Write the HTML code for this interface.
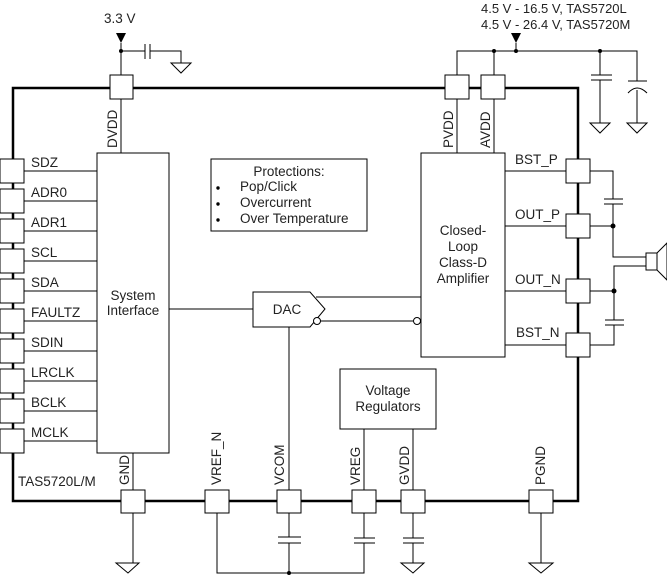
<!DOCTYPE html>
<html><head><style>
body{margin:0;background:#fff}
svg{display:block}
text{font-family:"Liberation Sans",Arial,sans-serif;font-size:13.5px;fill:#222}
</style></head><body>
<svg width="667" height="577" viewBox="0 0 667 577" xmlns="http://www.w3.org/2000/svg">
<g fill="none" stroke="#000" stroke-width="1">
<path d="M13 159 V88 H578 V501 H13 V453" stroke-width="2.5"/>
<path d="M13 170 V460" stroke-width="2.5"/>
<path d="M121 43 V75 M121 51 H145 M150 51 H181 V63 M145 44 V59 M150 44 V59 M121 99 V153"/>
<path d="M171 63 H191 L181 73 Z" fill="#fff"/>
<rect x="97" y="153" width="72" height="300" fill="#fff"/>
<path d="M24 171 H97 M24 201 H97 M24 231 H97 M24 261 H97 M24 291 H97 M24 321 H97 M24 351 H97 M24 381 H97 M24 411 H97 M24 441 H97"/>
<rect x="211" y="159" width="156" height="72"/>
<rect x="421" y="153" width="84" height="204"/>
<path d="M457 99 V153 M494 99 V153 M457 75 V51 H637 V81 M494 51 V75 M516 43 V51"/>
<path d="M600 51 V75 M591 75 H612 M591 80 H612 M600 80 V123 M637 90 V123"/>
<path d="M628 81 H647 M628 93 Q637 83 647 93"/>
<path d="M590 123 H610 L600 133 Z M627 123 H647 L637 133 Z M116 563 H139 L128 573 Z M529 563 H553 L541 573 Z M401 563 H424 L413 573 Z" fill="#fff"/>
<path d="M505 171 H566 M505 226 H566 M505 291 H566 M505 345 H566"/>
<path d="M590 171 H613 V199 M604 199 H623 M604 204 H623 M613 204 V257 H646 M590 226 H613"/>
<path d="M590 291 H614 V266 H646 M614 291 V320 M605 320 H624 M605 325 H624 M614 325 V345 H590"/>
<rect x="646" y="253" width="11" height="17"/>
<path d="M657 253 L667 243 V280 L657 270"/>
<path d="M253 292 H310 L325 309 L310 327 H253 Z"/>
<path d="M169 309 H253 M316 297 H421 M320 321 H413 M289 327 V490"/>
<circle cx="317" cy="321" r="3.5" fill="#fff"/>
<circle cx="417" cy="321" r="3.5" fill="#fff"/>
<rect x="340" y="369" width="96" height="60"/>
<path d="M364 429 V490 M413 429 V490"/>
<path d="M133 453 V490 M133 513 V563 M217 513 V573 H364 V543 M364 513 V538 M354 538 H375 M354 543 H375 M289 513 V537 M278 537 H301 M278 543 H301 M289 543 V573 M413 513 V538 M403 538 H424 M403 543 H424 M413 543 V563 M541 513 V563"/>
</g>
<g fill="#fff" stroke="#000" stroke-width="1">
<rect x="110" y="75" width="23" height="24"/><rect x="445" y="75" width="24" height="24"/><rect x="481" y="75" width="24" height="24"/>
<rect x="0" y="159" width="24" height="24"/><rect x="0" y="189" width="24" height="24"/><rect x="0" y="219" width="24" height="24"/><rect x="0" y="249" width="24" height="24"/><rect x="0" y="279" width="24" height="24"/><rect x="0" y="309" width="24" height="24"/><rect x="0" y="339" width="24" height="24"/><rect x="0" y="369" width="24" height="24"/><rect x="0" y="399" width="24" height="24"/><rect x="0" y="429" width="24" height="24"/>
<rect x="566" y="159" width="24" height="24"/><rect x="566" y="214" width="24" height="24"/><rect x="566" y="279" width="24" height="24"/><rect x="566" y="333" width="24" height="24"/>
<rect x="121" y="490" width="24" height="23"/><rect x="205" y="490" width="24" height="23"/><rect x="277" y="490" width="24" height="23"/><rect x="352" y="490" width="24" height="23"/><rect x="401" y="490" width="24" height="23"/><rect x="529" y="490" width="24" height="23"/>
</g>
<g fill="#000">
<path d="M116 33 H126 L121 43 Z M511 33 H521 L516 43 Z"/>
<circle cx="121" cy="51" r="2"/><circle cx="494" cy="51" r="2"/><circle cx="516" cy="51" r="2"/><circle cx="600" cy="51" r="2"/>
<circle cx="613" cy="226" r="2.5"/><circle cx="614" cy="291" r="2.5"/><circle cx="289" cy="573" r="2"/>
<circle cx="218" cy="188" r="1.7"/><circle cx="218" cy="204" r="1.7"/><circle cx="218" cy="220" r="1.7"/>
</g>
<text x="104" y="23">3.3 V</text>
<text x="481" y="13" style="font-size:13px">4.5 V - 16.5 V, TAS5720L</text>
<text x="481" y="29" style="font-size:13px">4.5 V - 26.4 V, TAS5720M</text>
<g>
<text x="31" y="167">SDZ</text><text x="31" y="197">ADR0</text><text x="31" y="227">ADR1</text><text x="31" y="257">SCL</text><text x="31" y="287">SDA</text><text x="31" y="317">FAULTZ</text><text x="31" y="347">SDIN</text><text x="31" y="377">LRCLK</text><text x="31" y="407">BCLK</text><text x="31" y="437">MCLK</text>
<text x="515" y="164">BST_P</text><text x="515" y="219">OUT_P</text><text x="515" y="284">OUT_N</text><text x="516" y="337">BST_N</text>
<text x="18" y="486">TAS5720L/M</text>
<text x="133" y="300" text-anchor="middle">System</text><text x="133" y="315" text-anchor="middle">Interface</text>
<text x="289" y="176" text-anchor="middle">Protections:</text>
<text x="240" y="191">Pop/Click</text><text x="240" y="207">Overcurrent</text><text x="240" y="223">Over Temperature</text>
<text x="463" y="235" text-anchor="middle">Closed-</text><text x="463" y="251" text-anchor="middle">Loop</text><text x="463" y="267" text-anchor="middle">Class-D</text><text x="463" y="283" text-anchor="middle">Amplifier</text>
<text x="287" y="314" text-anchor="middle">DAC</text>
<text x="388" y="395" text-anchor="middle">Voltage</text><text x="388" y="411" text-anchor="middle">Regulators</text>
<text transform="translate(117,148) rotate(-90)">DVDD</text>
<text transform="translate(453,148) rotate(-90)">PVDD</text>
<text transform="translate(490,148) rotate(-90)">AVDD</text>
<text transform="translate(129,485) rotate(-90)">GND</text>
<text transform="translate(221,485) rotate(-90)">VREF_N</text>
<text transform="translate(284,485) rotate(-90)">VCOM</text>
<text transform="translate(360,485) rotate(-90)">VREG</text>
<text transform="translate(409,485) rotate(-90)">GVDD</text>
<text transform="translate(545,485) rotate(-90)">PGND</text>
</g>
</svg>
</body></html>
